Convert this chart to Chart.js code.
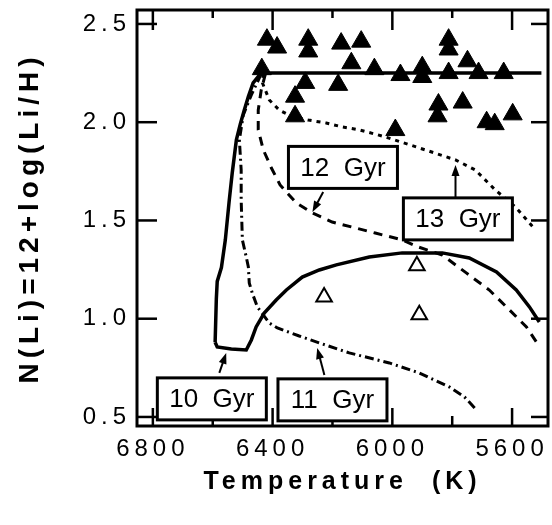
<!DOCTYPE html>
<html>
<head>
<meta charset="utf-8">
<script src="https://cdn.jsdelivr.net/npm/chart.js@4.4.0/dist/chart.umd.min.js"></script>
<style>
  html, body { margin: 0; padding: 0; background: #fff; }
</style>
</head>
<body>
<canvas id="myChart" width="552" height="525"></canvas>
<script>
// values: effective temperature (K) and N(Li)
const plateauT  = [6592, 6588, 6585, 6571, 6558, 6545, 6535, 6521, 6508, 6495, 6481, 6465, 6444, 6418, 6311, 5977, 5502];
const plateauLi = [0.88, 1.10, 1.19, 1.26, 1.40, 1.60, 1.74, 1.91, 1.99, 2.06, 2.13, 2.20, 2.24, 2.25, 2.25, 2.25, 2.25];

const gyr10T  = [6592, 6585, 6538, 6488, 6471, 6455, 6428, 6388, 6354, 6301, 6244, 6187, 6077, 5967, 5833, 5743, 5652, 5586, 5542, 5509];
const gyr10Li = [0.88, 0.856, 0.846, 0.841, 0.892, 0.958, 1.029, 1.095, 1.146, 1.212, 1.248, 1.274, 1.314, 1.335, 1.335, 1.309, 1.238, 1.146, 1.060, 0.983];

const gyr11T  = [6438, 6471, 6498, 6511, 6505, 6505, 6501, 6488, 6481, 6478, 6468, 6451, 6411, 6384, 6311, 6244, 6144, 6010, 5910, 5810, 5759, 5719];
const gyr11Li = [2.246, 2.139, 2.037, 1.910, 1.757, 1.604, 1.401, 1.314, 1.263, 1.182, 1.131, 1.060, 0.978, 0.953, 0.912, 0.877, 0.826, 0.775, 0.724, 0.653, 0.602, 0.536];

const gyr12T  = [6424, 6438, 6448, 6448, 6431, 6404, 6375, 6321, 6267, 6201, 6057, 5967, 5913, 5833, 5753, 5676, 5609, 5552, 5519];
const gyr12Li = [2.246, 2.164, 2.062, 1.961, 1.859, 1.767, 1.681, 1.589, 1.538, 1.492, 1.436, 1.401, 1.365, 1.324, 1.233, 1.146, 1.045, 0.958, 0.882];

const gyr13T  = [6431, 6434, 6411, 6378, 6334, 6281, 6221, 6167, 6110, 6023, 5890, 5789, 5723, 5656, 5589, 5522];
const gyr13Li = [2.246, 2.200, 2.113, 2.062, 2.027, 2.011, 1.996, 1.976, 1.961, 1.925, 1.859, 1.808, 1.757, 1.655, 1.569, 1.452];

// stars: detections (filled) and the three open triangles
const starT  = [6436, 6419, 6385, 6281, 6281, 6171, 6104, 6137, 6060, 5973, 5900, 5900, 5812, 5812, 5812, 5749, 5712, 5628, 6291, 6181, 6325, 6325, 5846, 5849, 5765, 5685, 5658, 5598, 5990];
const starLi = [2.27, 2.42, 2.38, 2.42, 2.36, 2.40, 2.41, 2.30, 2.27, 2.24, 2.28, 2.23, 2.42, 2.37, 2.25, 2.31, 2.25, 2.25, 2.20, 2.19, 2.13, 2.03, 2.09, 2.03, 2.10, 2.00, 1.99, 2.04, 1.96];
const openT  = [6228, 5918, 5910];
const openLi = [1.11, 1.27, 1.02];

// tick values
const xTickValues  = [6800, 6400, 6000, 5600];
const xMinorValues = [6600, 6200, 5800];
const yTickValues  = [0.5, 1.0, 1.5, 2.0, 2.5];

const FONT = '"Liberation Sans", Arial, Helvetica, sans-serif';
Chart.defaults.font.family = FONT;
Chart.defaults.color = '#000';

function pts(xs, ys) {
    return xs.map((x, i) => ({ x: x, y: ys[i] }));
}

function lineSet(label, xs, ys, dash, width) {
    return {
        label: label,
        data: pts(xs, ys),
        showLine: true,
        borderColor: '#000',
        borderWidth: width,
        borderDash: dash,
        pointRadius: 0,
        fill: false,
        tension: 0
    };
}

// scales keep no extra room for overhanging tick labels
function noPadding(s) {
    s.paddingLeft = 0;
    s.paddingRight = 0;
    s.paddingTop = 0;
    s.paddingBottom = 0;
}

// model labels with their arrows (in data units)
const notes = [
    { text: '10  Gyr', T: 6603, v: 0.592, from: [6578, 0.724], to: [6555, 0.826] },
    { text: '11  Gyr', T: 6200, v: 0.587, from: [6227, 0.714], to: [6251, 0.851] },
    { text: '12  Gyr', T: 6165, v: 1.770, from: [6231, 1.645], to: [6267, 1.543] },
    { text: '13  Gyr', T: 5781, v: 1.508, from: [5789, 1.614], to: [5789, 1.782] }
];

const spacing = {
    id: 'spacing',
    beforeUpdate(chart) { chart.ctx.letterSpacing = '5px'; },
    beforeDraw(chart) { chart.ctx.letterSpacing = '5px'; }
};

const frame = {
    id: 'frame',
    afterDraw(chart) {
        const { ctx, chartArea: a, scales: { x, y } } = chart;
        ctx.save();
        ctx.letterSpacing = '0px';
        ctx.strokeStyle = '#000';
        ctx.lineCap = 'butt';

        function seg(x1, y1, x2, y2) {
            ctx.beginPath();
            ctx.moveTo(x1, y1);
            ctx.lineTo(x2, y2);
            ctx.stroke();
        }

        ctx.lineWidth = 2.5;
        xTickValues.forEach(v => {
            const px = x.getPixelForValue(v);
            seg(px, a.bottom, px, a.bottom - 18);
            seg(px, a.top, px, a.top + 20);
        });
        xMinorValues.forEach(v => {
            const px = x.getPixelForValue(v);
            seg(px, a.bottom, px, a.bottom - 10);
            seg(px, a.top, px, a.top + 8);
        });
        yTickValues.forEach(v => {
            const py = y.getPixelForValue(v);
            seg(a.left, py, a.left + 20, py);
            seg(a.right, py, a.right - 17, py);
        });

        ctx.lineWidth = 3;
        ctx.strokeRect(a.left, a.top, a.right - a.left, a.bottom - a.top);

        // label boxes and arrows
        notes.forEach(n => {
            const cx = x.getPixelForValue(n.T);
            const cy = y.getPixelForValue(n.v);
            const w = 109, h = 42;
            ctx.fillStyle = '#fff';
            ctx.fillRect(cx - w / 2, cy - h / 2, w, h);
            ctx.lineWidth = 3;
            ctx.strokeRect(cx - w / 2, cy - h / 2, w, h);
            ctx.fillStyle = '#000';
            ctx.font = '26px ' + FONT;
            ctx.textAlign = 'center';
            ctx.textBaseline = 'middle';
            ctx.fillText(n.text, cx, cy + 1);

            const x1 = x.getPixelForValue(n.from[0]), y1 = y.getPixelForValue(n.from[1]);
            const x2 = x.getPixelForValue(n.to[0]), y2 = y.getPixelForValue(n.to[1]);
            const ang = Math.atan2(y2 - y1, x2 - x1);
            ctx.lineWidth = 2;
            seg(x1, y1, x2 - Math.cos(ang) * 6, y2 - Math.sin(ang) * 6);
            ctx.beginPath();
            ctx.moveTo(x2, y2);
            ctx.lineTo(x2 - Math.cos(ang) * 11 + Math.sin(ang) * 4, y2 - Math.sin(ang) * 11 - Math.cos(ang) * 4);
            ctx.lineTo(x2 - Math.cos(ang) * 11 - Math.sin(ang) * 4, y2 - Math.sin(ang) * 11 + Math.cos(ang) * 4);
            ctx.closePath();
            ctx.fill();
        });
        ctx.restore();
    }
};

const ctx = document.getElementById('myChart').getContext('2d');
const grafica = new Chart(ctx, {
    type: 'scatter',
    data: {
        datasets: [
            lineSet('plateau', plateauT, plateauLi, [], 3.5),
            lineSet('10 Gyr', gyr10T, gyr10Li, [], 3.5),
            lineSet('11 Gyr', gyr11T, gyr11Li, [9, 4, 2, 4], 3),
            lineSet('12 Gyr', gyr12T, gyr12Li, [9, 7], 3),
            lineSet('13 Gyr', gyr13T, gyr13Li, [4, 5], 3),
            {
                label: 'stars',
                data: pts(starT, starLi),
                pointStyle: 'triangle',
                pointRadius: 11,
                backgroundColor: '#000',
                borderColor: '#000',
                borderWidth: 1
            },
            {
                label: 'open',
                data: pts(openT, openLi),
                pointStyle: 'triangle',
                pointRadius: 9,
                backgroundColor: '#fff',
                borderColor: '#000',
                borderWidth: 2
            }
        ]
    },
    options: {
        responsive: false,
        animation: false,
        layout: { autoPadding: false, padding: { top: 10, right: 4, left: 0, bottom: 0 } },
        plugins: { legend: { display: false }, tooltip: { enabled: false } },
        scales: {
            x: {
                type: 'linear',
                position: 'bottom',
                reverse: true,
                min: 5480,
                max: 6853,
                afterBuildTicks: s => { s.ticks = xTickValues.map(v => ({ value: v })); },
                afterFit: s => { s.height = 99; noPadding(s); },
                grid: { display: false, drawTicks: false },
                border: { display: false },
                ticks: {
                    autoSkip: false,
                    maxRotation: 0,
                    padding: 9,
                    font: { size: 24 },
                    callback: v => String(v)
                },
                title: {
                    display: true,
                    text: 'Temperature  (K)',
                    font: { size: 25, weight: 'bold' },
                    padding: { top: 0, bottom: 28 }
                }
            },
            y: {
                type: 'linear',
                min: 0.454,
                max: 2.571,
                afterBuildTicks: s => { s.ticks = yTickValues.map(v => ({ value: v })); },
                afterFit: s => { s.width = 137; noPadding(s); },
                grid: { display: false, drawTicks: false },
                border: { display: false },
                ticks: {
                    autoSkip: false,
                    padding: 6,
                    font: { size: 24 },
                    callback: v => v.toFixed(1)
                },
                title: {
                    display: true,
                    text: 'N(Li)=12+log(Li/H)',
                    font: { size: 28, weight: 'bold' },
                    padding: { top: 13, bottom: 0 }
                }
            }
        }
    },
    plugins: [spacing, frame]
});
</script>
</body>
</html>
